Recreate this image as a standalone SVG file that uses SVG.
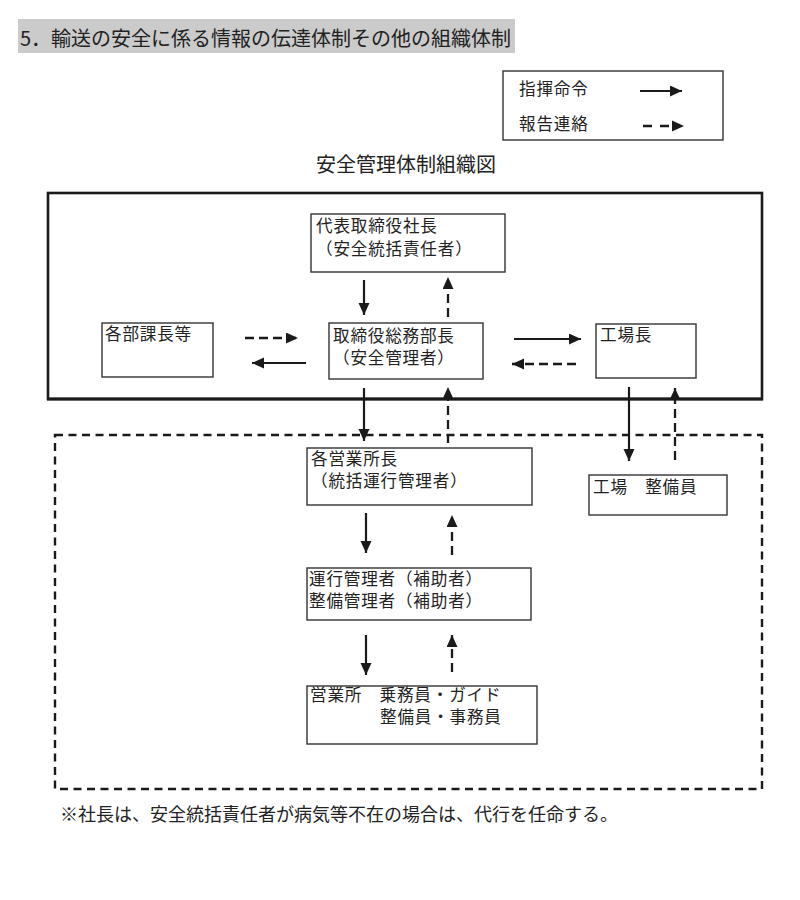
<svg xmlns="http://www.w3.org/2000/svg" width="800" height="900" viewBox="0 0 800 900">
<style>
text{font-family:"Noto Sans CJK JP","Noto Sans CJK SC",sans-serif;fill:#222}
.t{font-size:16.6px;letter-spacing:0.8px}
.box{fill:#fff;stroke:#333;stroke-width:1.4}
.sol{stroke:#1a1a1a;stroke-width:2.2;fill:none;marker-end:url(#ah)}
.dsh{stroke:#1a1a1a;stroke-width:2.3;fill:none;stroke-dasharray:9 5;marker-end:url(#ah)}
</style>
<defs>
<marker id="ah" markerUnits="userSpaceOnUse" markerWidth="12" markerHeight="12" refX="12" refY="5.5" orient="auto">
<path d="M0,0 L12,5.5 L0,11 z" fill="#1a1a1a"/>
</marker>
</defs>
<rect width="800" height="900" fill="#fff"/>

<g id="title">
<rect x="18" y="19" width="497" height="34" fill="#cbcbcb"/>
<text x="20" y="46" style="font-size:20px">5．輸送の安全に係る情報の伝達体制その他の組織体制</text>
</g>

<g id="legend">
<rect x="503" y="71" width="220" height="69" fill="#fff" stroke="#333" stroke-width="1.4"/>
<text class="t" x="519" y="95">指揮命令</text>
<text class="t" x="519" y="130">報告連絡</text>
<line class="sol" x1="640" y1="91" x2="682" y2="91"/>
<line x1="643" y1="126" x2="672" y2="126" stroke="#1a1a1a" stroke-width="2.3" stroke-dasharray="9 8"/>
<path d="M672,120.5 L684,126 L672,131.5 z" fill="#1a1a1a"/>
</g>

<text x="316" y="172" style="font-size:20px">安全管理体制組織図</text>

<g id="frames">
<rect x="48" y="193" width="714" height="206" fill="none" stroke="#1a1a1a" stroke-width="2.6"/>
<line x1="47" y1="399" x2="763" y2="399" stroke="#1a1a1a" stroke-width="3.2"/>
<rect x="55" y="435" width="707" height="354" fill="none" stroke="#1a1a1a" stroke-width="2.4" stroke-dasharray="8 5.5"/>
</g>

<g id="n-president">
<rect class="box" x="311" y="214" width="194" height="58"/>
<text class="t" x="316" y="232">代表取締役社長</text>
<text class="t" x="316" y="255">（安全統括責任者）</text>
</g>
<g id="n-depts">
<rect class="box" x="102" y="323" width="111" height="54"/>
<text class="t" x="105" y="340">各部課長等</text>
</g>
<g id="n-general">
<rect class="box" x="329" y="323" width="154" height="56"/>
<text class="t" x="333" y="342">取締役総務部長</text>
<text class="t" x="333" y="364">（安全管理者）</text>
</g>
<g id="n-factory">
<rect class="box" x="596" y="324" width="100" height="54"/>
<text class="t" x="600" y="341">工場長</text>
</g>
<g id="n-branch">
<rect class="box" x="307" y="448" width="225" height="57"/>
<text class="t" x="311" y="465">各営業所長</text>
<text class="t" x="311" y="487">（統括運行管理者）</text>
</g>
<g id="n-mechanic">
<rect class="box" x="589" y="475" width="138" height="40"/>
<text class="t" x="593" y="493">工場　整備員</text>
</g>
<g id="n-assist">
<rect class="box" x="307" y="568" width="224" height="52"/>
<text class="t" x="309" y="585">運行管理者（補助者）</text>
<text class="t" x="309" y="607">整備管理者（補助者）</text>
</g>
<g id="n-office">
<rect class="box" x="307" y="686" width="230" height="58"/>
<text class="t" x="310" y="701">営業所　乗務員・ガイド</text>
<text class="t" x="380" y="723">整備員・事務員</text>
</g>

<g id="connectors">
<line class="sol" x1="364" y1="280" x2="364" y2="315"/>
<line class="dsh" x1="448" y1="317" x2="448" y2="277"/>
<line class="dsh" x1="245" y1="338" x2="298" y2="338"/>
<line class="sol" x1="306" y1="363" x2="252" y2="363"/>
<line class="sol" x1="514" y1="339" x2="581" y2="339"/>
<line class="dsh" x1="576" y1="364" x2="512" y2="364"/>
<line class="sol" x1="364" y1="388" x2="364" y2="441"/>
<line class="dsh" x1="448" y1="443" x2="448" y2="387"/>
<line class="sol" x1="629" y1="387" x2="629" y2="461"/>
<line class="dsh" x1="675" y1="460" x2="675" y2="388"/>
<line class="sol" x1="366" y1="513" x2="366" y2="553"/>
<line class="dsh" x1="452" y1="555" x2="452" y2="515"/>
<line class="sol" x1="366" y1="635" x2="366" y2="675"/>
<line class="dsh" x1="452" y1="672" x2="452" y2="635"/>
</g>

<text x="60" y="821" style="font-size:18px">※社長は、安全統括責任者が病気等不在の場合は、代行を任命する。</text>
</svg>
